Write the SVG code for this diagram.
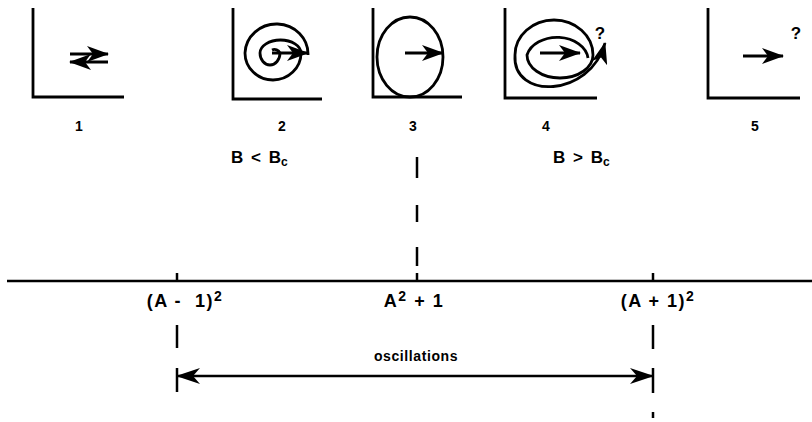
<svg xmlns="http://www.w3.org/2000/svg" width="812" height="422" viewBox="0 0 812 422">
<style>
.ax{fill:none;stroke:#000;stroke-width:2.8}
.ln{fill:none;stroke:#000;stroke-width:2.5}
.cv{fill:none;stroke:#000;stroke-width:2.8}
.ar{fill:none;stroke:#000;stroke-width:2.8;marker-end:url(#ah)}
.t{font-family:"Liberation Sans",Arial,sans-serif;font-weight:bold;fill:#000}
.big{font-size:17px}
.lab{font-size:18px;letter-spacing:1.5px}
.sm{font-size:14px}
</style>
<defs>
<marker id="ah" viewBox="0 0 22 16" refX="21" refY="8" markerWidth="22" markerHeight="16" markerUnits="userSpaceOnUse" orient="auto">
<path d="M0,0 L22,8 L0,16 L6,8 Z" fill="#000"/>
</marker>
<marker id="bh" viewBox="0 0 24 16" refX="23" refY="8" markerWidth="24" markerHeight="16" markerUnits="userSpaceOnUse" orient="auto-start-reverse">
<path d="M0,0 L24,8 L0,16 L7,8 Z" fill="#000"/>
</marker>
</defs>

<g id="panel1">
<path class="ax" d="M33,8 V97 H124"/>
<line class="ar" x1="70" y1="54" x2="108" y2="54"/>
<line class="ar" x1="108" y1="62" x2="70" y2="62"/>
<text class="t sm" x="79" y="131" text-anchor="middle">1</text>
</g>

<g id="panel2">
<path class="ax" d="M233,8 V99 H322"/>
<path class="cv" d="M308,55 A31.5 30 0 0 0 245,53 A28 27 0 0 0 301,53 A20.5 13 0 0 0 260,53 A10 12 0 0 0 280,53 A6 6 0 0 0 272,50"/>
<line class="ar" x1="272" y1="53" x2="308" y2="53"/>
<text class="t sm" x="282" y="131" text-anchor="middle">2</text>
</g>

<g id="panel3">
<path class="ax" d="M373,8 V97 H462"/>
<ellipse class="cv" cx="410" cy="57" rx="33" ry="40"/>
<line class="ar" x1="405" y1="53" x2="443" y2="53"/>
<text class="t sm" x="413" y="131" text-anchor="middle">3</text>
</g>

<g id="panel4">
<path class="ax" d="M505,8 V98 H597"/>
<path class="cv" d="M588,58 A31 23 0 0 0 527,55 A33 23 0 0 0 593,55 A39 35 0 0 0 515,55"/>
<path class="ar" d="M515,55 C512,100 590,98 605,43"/>
<line class="ar" x1="540" y1="53" x2="580" y2="53"/>
<text class="t big" x="600" y="39" text-anchor="middle">?</text>
<text class="t sm" x="546" y="131" text-anchor="middle">4</text>
</g>

<g id="panel5">
<path class="ax" d="M708,8 V98 H800"/>
<line class="ar" x1="743" y1="56" x2="783" y2="56"/>
<text class="t big" x="796" y="39" text-anchor="middle">?</text>
<text class="t sm" x="755" y="131" text-anchor="middle">5</text>
</g>

<g id="regions">
<text class="t big" x="231" y="163" word-spacing="3">B &lt; B<tspan font-size="12" dy="3">c</tspan></text>
<text class="t big" x="553" y="163" word-spacing="3">B &gt; B<tspan font-size="12" dy="3">c</tspan></text>
</g>

<g id="axis">
<line class="ln" x1="7" y1="281" x2="812" y2="281"/>
<line class="ln" x1="177" y1="273" x2="177" y2="281"/>
<line class="ln" x1="417" y1="273" x2="417" y2="281"/>
<line class="ln" x1="653" y1="273" x2="653" y2="281"/>
<text class="t lab" x="185" y="307" text-anchor="middle">(A - &#160;1)<tspan font-size="14" dy="-6">2</tspan></text>
<text class="t lab" x="414" y="307" text-anchor="middle">A<tspan font-size="14" dy="-6">2</tspan><tspan dy="6"> + 1</tspan></text>
<text class="t lab" x="658" y="307" text-anchor="middle">(A + 1)<tspan font-size="14" dy="-6">2</tspan></text>
</g>

<g id="connectors">
<line class="ln" x1="417" y1="157" x2="417" y2="178"/>
<line class="ln" x1="417" y1="205" x2="417" y2="222"/>
<line class="ln" x1="417" y1="247" x2="417" y2="266"/>
<line class="ln" x1="177" y1="325" x2="177" y2="348"/>
<line class="ln" x1="177" y1="368" x2="177" y2="392"/>
<line class="ln" x1="653" y1="325" x2="653" y2="349"/>
<line class="ln" x1="653" y1="368" x2="653" y2="393"/>
<line class="ln" x1="653" y1="412" x2="653" y2="418"/>
<line x1="177" y1="376" x2="653" y2="376" stroke="#000" stroke-width="2.5" marker-start="url(#bh)" marker-end="url(#bh)"/>
<text class="t" font-size="14" letter-spacing="0.6" x="416" y="361" text-anchor="middle">oscillations</text>
</g>
</svg>
